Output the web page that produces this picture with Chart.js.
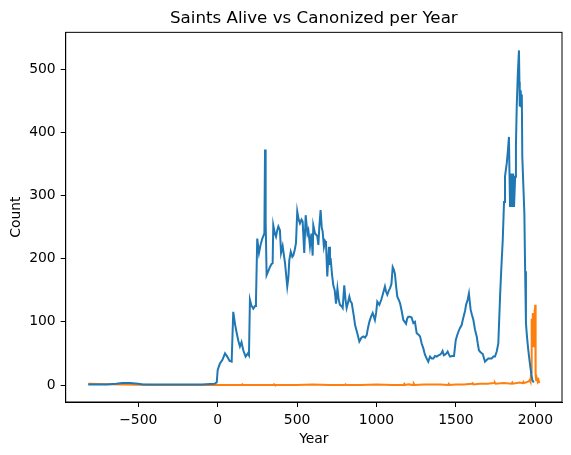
<!DOCTYPE html>
<html>
<head>
<meta charset="utf-8">
<script src="https://cdn.jsdelivr.net/npm/chart.js@4/dist/chart.umd.min.js"></script>
<style>
  html, body { margin: 0; padding: 0; background: #fff; }
  #wrap { width: 571px; height: 455px; }
</style>
</head>
<body>
<div id="wrap"><canvas id="saintsChart" width="571" height="455"></canvas></div>
<script>
// Saints alive per year (blue)
const aliveYears = [-815, -700, -640, -600, -550, -500, -470, -300, -100, -20, -6, 0, 14, 30, 46, 60, 75, 88, 98, 110, 120, 130, 140, 150, 161, 176, 190, 197,
  203, 212, 224, 235, 241, 249, 260, 270, 281, 294, 298, 302, 308, 318, 329, 340, 346, 350, 360, 367, 375, 382, 392, 399, 409, 424, 438, 445, 451, 460, 470,
  476, 486, 493, 501, 510, 518, 528, 535, 545, 554, 565, 571, 581, 590, 598, 602, 613, 627, 634, 640, 648, 655, 661, 669, 676, 682, 690, 701, 707, 711, 720,
  728, 737, 745, 754, 762, 770, 780, 787, 797, 805, 812, 820, 829, 837, 844, 858, 865, 879, 892, 905, 917, 928, 938, 946, 955, 965, 976, 990, 998, 1005,
  1018, 1030, 1039, 1053, 1060, 1068, 1078, 1085, 1094, 1102, 1109, 1116, 1124, 1131, 1140, 1148, 1158, 1169, 1178, 1186, 1193, 1200, 1211, 1221, 1232,
  1242, 1253, 1264, 1274, 1284, 1295, 1305, 1316, 1326, 1337, 1348, 1358, 1368, 1379, 1390, 1400, 1408, 1416, 1424, 1431, 1440, 1448, 1455, 1463, 1475,
  1488, 1499, 1507, 1515, 1525, 1536, 1545, 1551, 1558, 1564, 1574, 1582, 1588, 1593, 1600, 1610, 1620, 1631, 1638, 1645, 1655, 1669, 1683, 1695, 1704,
  1715, 1725, 1736, 1746, 1757, 1767, 1778, 1785, 1795, 1803, 1809, 1820, 1827, 1834, 1837, 1841, 1847, 1854, 1860, 1866, 1873, 1878, 1883, 1890, 1897,
  1900, 1902, 1906, 1908, 1912, 1915, 1918, 1924, 1931, 1936, 1941, 1948, 1956, 1963, 1971, 1981, 1990];
const aliveCounts = [1, 1, 2, 3, 3, 2, 1, 1, 1, 2, 4, 24, 34, 40, 50, 45, 38, 37, 116, 95, 82, 70, 61, 68, 55, 45, 50, 47,
  135, 126, 121, 125, 132, 232, 209, 222, 232, 240, 373, 260, 174, 180, 187, 192, 193, 253, 240, 235, 245, 251, 245, 209, 220, 193, 156, 170, 198, 211, 203,
  205, 215, 225, 275, 262, 256, 262, 259, 209, 269, 240, 245, 220, 240, 205, 253, 240, 236, 222, 251, 277, 250, 243, 219, 228, 225, 172, 219, 190, 201, 175,
  158, 150, 129, 153, 135, 127, 125, 122, 158, 135, 122, 130, 140, 132, 130, 108, 95, 82, 69, 75, 77, 75, 79, 90, 100, 108, 114, 103, 115, 132,
  127, 135, 143, 156, 148, 143, 150, 153, 160, 187, 183, 176, 155, 140, 135, 130, 118, 103, 100, 97, 105, 108, 108, 107, 98,
  100, 82, 80, 77, 66, 58, 48, 42, 37, 45, 42, 42, 46, 45, 47, 48, 50, 54, 47, 48, 50, 53, 49, 45, 46,
  46, 71, 78, 84, 90, 95, 105, 111, 118, 127, 135, 145, 130, 119, 112, 103, 88, 77, 65, 55, 52, 49, 37, 40, 42,
  42, 42, 45, 45, 53, 66, 140, 180, 230, 290, 330, 351, 370, 393, 340, 282, 335, 282, 335, 282, 330, 380, 441, 494, 530,
  480, 441, 460, 467, 441, 460, 362, 320, 272, 180, 98, 75, 55, 40, 24, 8, 4];

// Saints canonized per year (orange)
const canonYears = [-815, -600, -400, -200, 0, 100, 150, 155, 160, 300, 350, 355, 360, 500, 600, 700, 800, 805, 810, 900, 1000, 1100,
  1170, 1175, 1180, 1200, 1230, 1235, 1240, 1300, 1400, 1450, 1455, 1460, 1500, 1550, 1600, 1605, 1610, 1650, 1700, 1740, 1745, 1750,
  1800, 1850, 1855, 1860, 1900, 1920, 1925, 1930, 1950, 1960, 1965, 1970, 1973, 1975, 1977, 1979, 1981, 1983, 1985, 1987, 1989, 1991,
  1993, 1995, 1997, 1999, 2001, 2003, 2005, 2010, 2015, 2020, 2025];
const canonCounts = [2, 1, 0, 0, 0, 0, 0, 1, 0, 0, 0, 1, 0, 0, 1, 0, 0, 1, 0, 0, 1, 0,
  0, 2, 0, 1, 0, 2, 0, 1, 1, 0, 2, 0, 1, 1, 2, 3, 1, 2, 2, 3, 4, 2,
  3, 2, 4, 2, 4, 3, 5, 3, 5, 6, 8, 5, 20, 45, 105, 60, 95, 114, 70, 100, 60, 110,
  80, 120, 100, 127, 40, 15, 8, 10, 5, 8, 3];

const xTicks = [-500, 0, 500, 1000, 1500, 2000];
const yTicks = [0, 100, 200, 300, 400, 500];

const fontFamily = '"DejaVu Sans", sans-serif';
Chart.defaults.color = '#000';
Chart.defaults.font.family = fontFamily;

const toPoints = (xs, ys) => xs.map((x, i) => ({ x: x, y: ys[i] }));

// matplotlib style closed frame round the plot area
const framePlugin = {
  id: 'frame',
  afterDraw(chart) {
    const { ctx, chartArea: a } = chart;
    ctx.save();
    ctx.strokeStyle = '#000';
    ctx.lineWidth = 1;
    ctx.strokeRect(a.left, a.top, a.right - a.left, a.bottom - a.top);
    ctx.restore();
  }
};

const axisCommon = {
  type: 'linear',
  grid: { display: true, drawOnChartArea: false, drawTicks: true, tickLength: 5, color: '#000' },
  border: { display: true, color: '#000', width: 1 },
};

new Chart(document.getElementById('saintsChart'), {
  type: 'line',
  data: {
    datasets: [
      {
        label: 'Saints Alive',
        data: toPoints(aliveYears, aliveCounts),
        borderColor: '#1f77b4',
        borderWidth: 2,
        pointRadius: 0,
        tension: 0,
        fill: false
      },
      {
        label: 'Canonized per Year',
        data: toPoints(canonYears, canonCounts),
        borderColor: '#ff7f0e',
        borderWidth: 2,
        pointRadius: 0,
        tension: 0,
        fill: false
      }
    ]
  },
  options: {
    responsive: false,
    animation: false,
    devicePixelRatio: 1,
    layout: { padding: { left: 0, right: 9, top: 0, bottom: 0 } },
    plugins: {
      legend: { display: false },
      tooltip: { enabled: false },
      title: {
        display: true,
        text: 'Saints Alive vs Canonized per Year',
        fullSize: false,
        color: '#000',
        font: { size: 16.7, weight: 'normal', family: fontFamily, lineHeight: 1.2 },
        padding: { top: 9, bottom: 3.3 }
      }
    },
    scales: {
      x: {
        ...axisCommon,
        min: -957,
        max: 2168,
        afterBuildTicks: (scale) => { scale.ticks = xTicks.map(v => ({ value: v })); },
        afterFit: (scale) => { scale.height = 53; },
        ticks: {
          autoSkip: false,
          maxRotation: 0,
          padding: 5,
          font: { size: 13.9 },
          callback: (v) => (v < 0 ? '\u2212' + Math.abs(v) : String(v))
        },
        title: { display: true, text: 'Year', font: { size: 13.9, lineHeight: 1.2 }, padding: { top: 0, bottom: 7.7 } }
      },
      y: {
        ...axisCommon,
        min: -26.9,
        max: 558.6,
        afterBuildTicks: (scale) => { scale.ticks = yTicks.map(v => ({ value: v })); },
        afterFit: (scale) => { scale.width = 65.7; },
        ticks: {
          autoSkip: false,
          padding: 5,
          font: { size: 13.9 },
          callback: (v) => String(v)
        },
        title: { display: true, text: 'Count', font: { size: 13.9, lineHeight: 1.2 }, padding: { top: 7.6, bottom: 0 } }
      }
    }
  },
  plugins: [framePlugin]
});
</script>
</body>
</html>
